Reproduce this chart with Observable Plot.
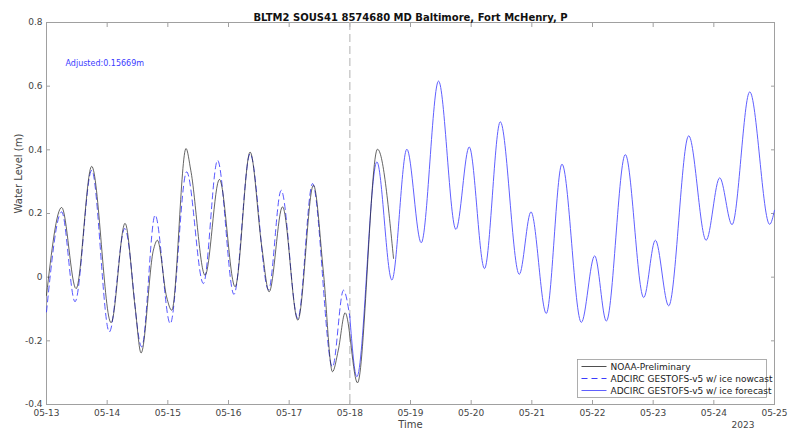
<!DOCTYPE html>
<html>
<head>
<meta charset="utf-8">
<script src="https://cdn.jsdelivr.net/npm/d3@7"></script>
<script src="https://cdn.jsdelivr.net/npm/@observablehq/plot@0.6"></script>
<style>
  html, body { margin: 0; padding: 0; background: #fff; }
  #chart svg { display: block; }
</style>
</head>
<body>
<div id="chart"></div>
<script>
// ---- data (day offsets from 2023-05-13 00:00 UTC, water level in m) ----
const noaaDays = [0.00, 0.25, 0.487, 0.745, 1.064, 1.295, 1.46, 1.559, 1.762, 1.828, 1.98, 2.065, 2.30, 2.378, 2.614, 2.85, 3.109, 3.356, 3.549, 3.67, 3.89, 4.143, 4.40, 4.566, 4.714, 4.81, 4.923, 5.126, 5.456, 5.72];
const noaaLevel = [-0.057, 0.219, -0.036, 0.348, -0.143, 0.169, -0.093, -0.238, 0.085, 0.116, -0.062, -0.104, 0.404, 0.336, 0.006, 0.307, -0.030, 0.393, 0.095, -0.046, 0.221, -0.135, 0.289, 0.012, -0.297, -0.229, -0.112, -0.332, 0.402, 0.059];

const nowcastDays = [0.00, 0.25, 0.47, 0.745, 1.036, 1.29, 1.57, 1.79, 2.04, 2.31, 2.586, 2.82, 3.09, 3.356, 3.66, 3.868, 4.143, 4.385, 4.714, 4.895, 5.00];
const nowcastLevel = [-0.109, 0.205, -0.077, 0.336, -0.172, 0.153, -0.219, 0.195, -0.146, 0.331, -0.020, 0.367, -0.054, 0.388, -0.040, 0.273, -0.130, 0.294, -0.282, -0.041, -0.125];

const forecastDays = [5.00, 5.116, 5.446, 5.693, 5.94, 6.177, 6.462, 6.749, 6.968, 7.22, 7.48, 7.793, 7.986, 8.238, 8.497, 8.816, 9.036, 9.228, 9.541, 9.844, 10.036, 10.256, 10.586, 10.873, 11.097, 11.30, 11.592, 11.92, 12.0];
const forecastLevel = [-0.125, -0.313, 0.362, -0.009, 0.402, 0.108, 0.616, 0.150, 0.409, 0.027, 0.488, 0.009, 0.205, -0.114, 0.355, -0.142, 0.067, -0.138, 0.385, -0.064, 0.116, -0.090, 0.444, 0.116, 0.312, 0.165, 0.582, 0.166, 0.21];

const xTickLabels = ["05-13","05-14","05-15","05-16","05-17","05-18","05-19","05-20","05-21","05-22","05-23","05-24","05-25"];
const yTicks = [-0.4, -0.2, 0, 0.2, 0.4, 0.6, 0.8];
const yTickLabels = ["-0.4", "-0.2", "0", "0.2", "0.4", "0.6", "0.8"];
const seriesNames = ["NOAA-Preliminary", "ADCIRC GESTOFS-v5 w/ ice nowcast", "ADCIRC GESTOFS-v5 w/ ice forecast"];
const titleText = "BLTM2 SOUS41 8574680 MD Baltimore, Fort McHenry, P";
const adjustedText = "Adjusted:0.15669m";
const yearText = "2023";
const nowcastEndLabel = "05-18";

// ---- build ----
const parseDay = d3.utcParse("%Y-%m-%d");
const t0 = parseDay("2023-05-13");
const toDate = d => new Date(t0.getTime() + d * 864e5);
const mk = (days, lv) => days.map((d, i) => ({t: toDate(d), v: lv[i]}));
const noaa = mk(noaaDays, noaaLevel);
const nowcast = mk(nowcastDays, nowcastLevel);
const forecast = mk(forecastDays, forecastLevel);
const xTicks = xTickLabels.map(s => parseDay("2023-" + s));
const nowcastEnd = parseDay("2023-" + nowcastEndLabel);

const colNoaa = "#222222", colNow = "#3b3bff", colFore = "#6060ff";
const tickCol = "#444";

const chart = Plot.plot({
  width: 788,
  height: 433,
  marginLeft: 46,
  marginRight: 14,
  marginTop: 22,
  marginBottom: 29,
  style: {fontFamily: "DejaVu Sans", fontSize: "9px", color: tickCol, background: "#fff"},
  x: {type: "utc", domain: [xTicks[0], xTicks[xTicks.length - 1]]},
  y: {domain: [-0.4, 0.8]},
  marks: [
    Plot.frame({stroke: "#a0a0a0"}),
    Plot.axisX({anchor: "bottom", ticks: xTicks, tickFormat: d3.utcFormat("%m-%d"), tickSize: -4, tickPadding: 9, label: null, stroke: "#a0a0a0", fill: tickCol}),
    Plot.axisX({anchor: "top", ticks: xTicks, tickFormat: () => "", tickSize: -4, label: null, stroke: "#a0a0a0"}),
    Plot.axisY({anchor: "left", ticks: yTicks, tickFormat: (d, i) => yTickLabels[yTicks.indexOf(d)], tickSize: -4, tickPadding: 8, label: null, stroke: "#a0a0a0", fill: tickCol}),
    Plot.axisY({anchor: "right", ticks: yTicks, tickFormat: () => "", tickSize: -4, label: null, stroke: "#a0a0a0"}),
    Plot.ruleX([nowcastEnd], {stroke: "#c4c4c4", strokeWidth: 1.3, strokeDasharray: "8,4"}),
    Plot.line(forecast, {x: "t", y: "v", curve: "monotone-x", stroke: colFore, strokeWidth: 1}),
    Plot.line(nowcast, {x: "t", y: "v", curve: "monotone-x", stroke: colNow, strokeWidth: 1, strokeDasharray: "6,4", strokeOpacity: 0.85}),
    Plot.line(noaa, {x: "t", y: "v", curve: "monotone-x", stroke: colNoaa, strokeWidth: 0.7}),
    Plot.text([titleText], {frameAnchor: "top", text: d => d, dy: -9, fontWeight: "bold", fontSize: 10, fill: "#111"}),
    Plot.text([adjustedText], {frameAnchor: "top-left", text: d => d, dx: 19, dy: 38, fontSize: 8, fill: "#3b3bff", textAnchor: "start"}),
    Plot.text(["Time"], {frameAnchor: "bottom", text: d => d, dy: 23, fontSize: 10, fill: tickCol}),
    Plot.text([yearText], {frameAnchor: "bottom-right", text: d => d, dx: -20, dy: 23, fontSize: 9, fill: tickCol}),
    Plot.text(["Water Level (m)"], {frameAnchor: "left", text: d => d, rotate: -90, dx: -28, fontSize: 10, fill: tickCol})
  ]
});

// legend (inside plot, bottom-right)
const svg = d3.select(chart);
const lg = svg.append("g").attr("font-family", "DejaVu Sans").attr("font-size", 9).attr("text-anchor", "start");
const lx = 577.5, ly = 359.5, lw = 189, lh = 38;
lg.append("rect").attr("x", lx).attr("y", ly).attr("width", lw).attr("height", lh)
  .attr("fill", "#fff").attr("stroke", "#9a9a9a").attr("stroke-width", 0.8);
const styles = [
  {stroke: colNoaa, dash: "none", w: 0.8},
  {stroke: colNow, dash: "6,4", w: 1},
  {stroke: colFore, dash: "none", w: 1}
];
seriesNames.forEach((name, i) => {
  const yy = ly + 7 + i * 12;
  lg.append("line").attr("x1", lx + 4).attr("x2", lx + 29).attr("y1", yy).attr("y2", yy)
    .style("stroke", styles[i].stroke).style("stroke-width", styles[i].w)
    .style("stroke-dasharray", styles[i].dash);
  lg.append("text").attr("x", lx + 33).attr("y", yy).attr("dy", "0.35em")
    .attr("text-anchor", "start").attr("fill", "#222").text(name);
});

document.getElementById("chart").appendChild(chart);
</script>
</body>
</html>
